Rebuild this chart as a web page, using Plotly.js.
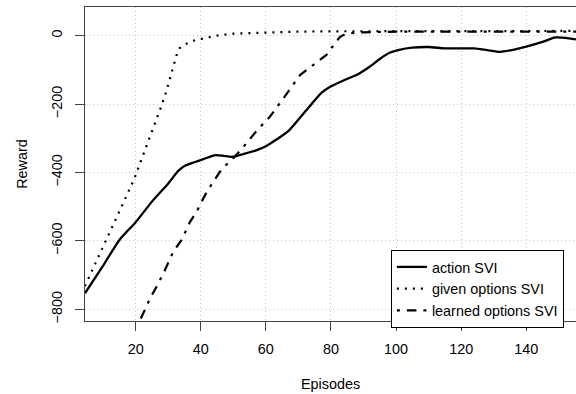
<!DOCTYPE html>
<html>
<head>
<meta charset="utf-8">
<script src="https://cdn.plot.ly/plotly-3.0.1.min.js"></script>
<style>html,body{margin:0;padding:0;background:#fff;}#chart{width:576px;height:394px;}</style>
</head>
<body>
<div id="chart"></div>
<script>
// action SVI
const actionX = [4.4, 10, 15, 20, 25, 30, 33, 35, 38, 41, 44.5, 47, 49.5, 53, 57, 60, 63, 67, 71, 74, 77, 80, 84, 88, 92, 95, 98, 101, 105, 110, 115, 120, 124, 128, 132, 136, 140, 145, 149, 152, 155.3];
const actionY = [-753, -672, -597, -545, -485, -432, -396, -381, -370, -360, -349, -351, -354, -346, -335, -323, -305, -278, -234, -200, -168, -148, -130, -114, -90, -68, -50, -41, -35, -33, -37, -37, -37, -42, -47, -41, -32, -18, -5, -6, -11];

// given options SVI
const givenX = [4.4, 8, 12, 16, 19.5, 22.85, 25.4, 27.8, 29.3, 30.7, 31.9, 32.6, 33.4, 35.4, 37.5, 39.8, 42.3, 44.6, 50, 60, 70, 80, 90, 100, 120, 140, 155.3];
const givenY = [-732, -658, -576, -494, -420, -334, -271, -208, -166, -123, -79, -56, -37, -24, -15, -10, -4, 0, 6, 10, 12, 13, 13, 13, 14, 14, 14];

// learned options SVI
const learnedX = [20, 21.8, 24.4, 26.4, 29, 31.5, 34.1, 36.7, 38.7, 41.3, 43.8, 46.6, 49.5, 53.1, 57, 61.2, 66, 70.5, 74.5, 78.6, 81, 82.8, 84.8, 90, 100, 110, 120, 130, 140, 150, 155.3];
const learnedY = [-852, -822, -768, -734, -685, -632, -597, -544, -515, -466, -427, -388, -363, -325, -280, -237, -175, -115, -86, -56, -25, -3, 7, 10, 12, 12, 13, 12, 13, 13, 12];

const xTicks = [20, 40, 60, 80, 100, 120, 140];
const yTicks = [0, -200, -400, -600, -800];
const seriesNames = ['action SVI', 'given options SVI', 'learned options SVI'];

const FONT = '"Liberation Sans", Arial, Helvetica, sans-serif';
const FS = 14.4;

const traces = [
  {x: actionX, y: actionY, name: seriesNames[0], type: 'scatter', mode: 'lines',
   line: {color: '#000', width: 2.3, shape: 'spline', smoothing: 0.6}},
  {x: givenX, y: givenY, name: seriesNames[1], type: 'scatter', mode: 'lines',
   line: {color: '#000', width: 2.2, dash: '2px,6px'}},
  {x: learnedX, y: learnedY, name: seriesNames[2], type: 'scatter', mode: 'lines',
   line: {color: '#000', width: 2.2, dash: '3px,7px,9.5px,7px'}}
];

const axisCommon = {
  showgrid: true, gridcolor: '#c4c4c4', griddash: '1px,3px', gridwidth: 1,
  zeroline: false, showline: true, linecolor: '#444', linewidth: 1,
  ticks: 'outside', ticklen: 9, tickcolor: '#444', tickwidth: 1,
  tickfont: {family: FONT, size: FS, color: '#000'}
};

const layout = {
  width: 576, height: 394,
  margin: {l: 85, r: 0, t: 7, b: 73},
  paper_bgcolor: '#fff', plot_bgcolor: '#fff',
  font: {family: FONT, size: FS, color: '#000'},
  showlegend: true,
  legend: {x: 0.623, y: 0.226, xanchor: 'left', yanchor: 'top',
    bgcolor: '#fff', bordercolor: '#000', borderwidth: 1,
    font: {family: FONT, size: FS, color: '#000'}, tracegroupgap: 0},
  xaxis: Object.assign({}, axisCommon, {
    range: [4.42, 155.3], tickmode: 'array', tickvals: xTicks, mirror: true,
    ticklabelstandoff: 6,
    title: {text: 'Episodes', font: {family: FONT, size: FS, color: '#000'}, standoff: 22}
  }),
  yaxis: Object.assign({}, axisCommon, {
    range: [-834, 84], tickmode: 'array', tickvals: yTicks, tickangle: -90,
    ticklabelstandoff: 7,
    title: {text: 'Reward', font: {family: FONT, size: FS, color: '#000'}, standoff: 18}
  })
};

Plotly.newPlot('chart', traces, layout, {staticPlot: true, displayModeBar: false});
</script>
</body>
</html>
